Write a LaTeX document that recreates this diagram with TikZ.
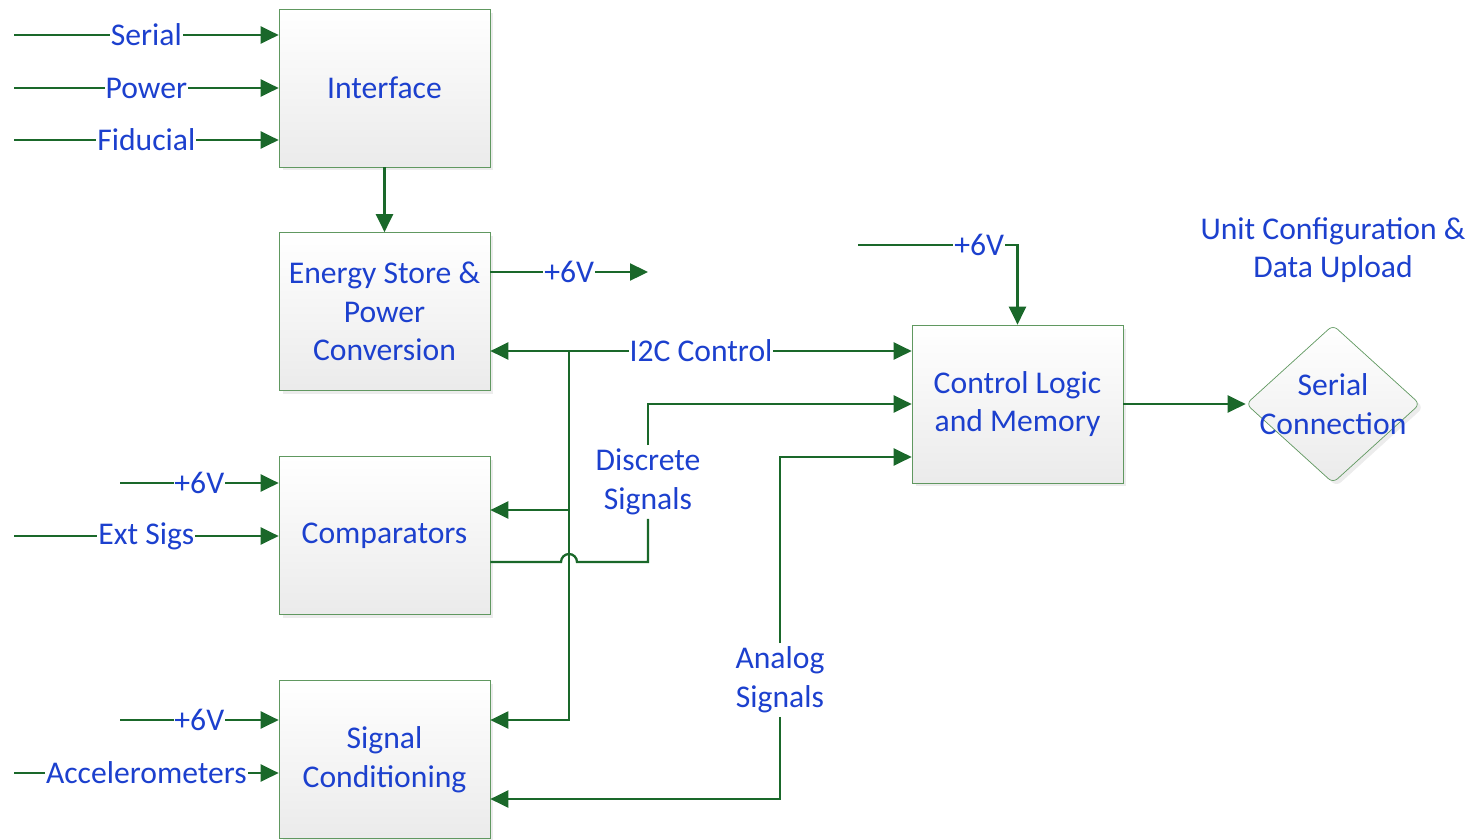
\documentclass[tikz,border=0pt]{standalone}
\usepackage{fontspec}
\setmainfont{Carlito}
\usetikzlibrary{arrows.meta,shapes.geometric,shadows}
\definecolor{sigblue}{RGB}{28,64,206}
\definecolor{wiregreen}{RGB}{26,104,42}
\definecolor{edgegreen}{RGB}{96,152,96}

\begin{document}
\begin{tikzpicture}[
  x=0.02cm, y=-0.02cm,
  font=\fontsize{18}{22}\selectfont,
  my block/.style={
    draw=edgegreen, top color=white, bottom color=black!8,
    minimum width=4.22cm, minimum height=3.16cm,
    align=center, text=sigblue,
    drop shadow={opacity=0.15, shadow xshift=0.07cm, shadow yshift=-0.07cm},
  },
  my diamond/.style={
    diamond, draw=edgegreen, top color=white, bottom color=black!8,
    minimum width=3.48cm, minimum height=3.16cm, rounded corners=0.12cm,
    drop shadow={opacity=0.15, shadow xshift=0.07cm, shadow yshift=-0.07cm},
  },
  my text/.style={text=sigblue, align=center, inner sep=2pt},
  my label/.style={text=sigblue, fill=white, inner sep=0.5pt},
  my wire/.style={draw=wiregreen, line width=1.3pt},
  my arrow/.style={my wire, -{Triangle[length=0.36cm,width=0.34cm]}},
  my both/.style={my wire, {Triangle[length=0.36cm,width=0.34cm]}-{Triangle[length=0.36cm,width=0.34cm]}},
  ]
  \useasboundingbox (0,0) rectangle (1476,839);

  \node[my block] (iface) at (384.5,88) {Interface};
  \node[my block] (store) at (384.5,311.5) {Energy Store \&\\Power\\Conversion};
  \node[my block] (comp) at (384.5,535.5) {Comparators};
  \node[my block] (cond) at (384.5,759.5) {Signal\\Conditioning};
  \node[my block] (logic) at (1017.5,404) {Control Logic\\and Memory};
  \node[my diamond] (serial) at (1333,404) {};
  \node[my text] at (serial) {Serial\\Connection};
  \node[my text] (upload) at (1333,250) {Unit Configuration \&\\Data Upload};
  \node[my text] (discrete) at (648,482) {Discrete\\Signals};
  \node[my text] (analog) at (780,680) {Analog\\Signals};

  \foreach \name/\x/\y/\dest/\txt in {serin/14/35/iface/Serial, pwrin/14/88/iface/Power,
      fidin/14/140/iface/Fiducial, cmpv/120/483/comp/+6V, extin/14/536/comp/Ext Sigs,
      condv/120/720/cond/+6V, accin/14/773/cond/Accelerometers}
  {
    \coordinate (\name) at (\x,\y);
    \draw[my arrow] (\name) -- node[my label] {\txt} (\name -| \dest.west);
  }

  \draw[my arrow] (iface) -- (store);
  \coordinate (vout) at (648,272);
  \draw[my arrow] (vout -| store.east) -- node[my label] {+6V} (vout);

  \coordinate (bus) at (569,351);
  \draw[my both] (bus -| store.east) -- node[my label] {I2C Control} (bus -| logic.west);
  \coordinate (cmpin) at ([yshift=0.51cm]comp.east);
  \coordinate (condin) at ([yshift=0.79cm]cond.east);
  \draw[my arrow] (bus) |- (condin);
  \draw[my arrow] (cmpin -| bus) -- (cmpin);

  \coordinate (cmpout) at ([yshift=-0.53cm]comp.east);
  \coordinate (hop) at (cmpout -| bus);
  \draw[my wire] (cmpout) -- ([xshift=-0.16cm]hop) arc[start angle=180, end angle=0, radius=0.16cm] -| (discrete.south);
  \draw[my arrow] (discrete.north) |- (logic.west);

  \coordinate (condback) at ([yshift=-0.79cm]cond.east);
  \draw[my arrow] (analog.north) |- ([yshift=-1.06cm]logic.west);
  \draw[my arrow] (analog.south) |- (condback);

  \coordinate (logicv) at (858,245);
  \draw[my arrow] (logicv) -| node[my label, pos=0.38] {+6V} (logic.north);
  \draw[my arrow] (logic) -- (serial);
\end{tikzpicture}
\end{document}
